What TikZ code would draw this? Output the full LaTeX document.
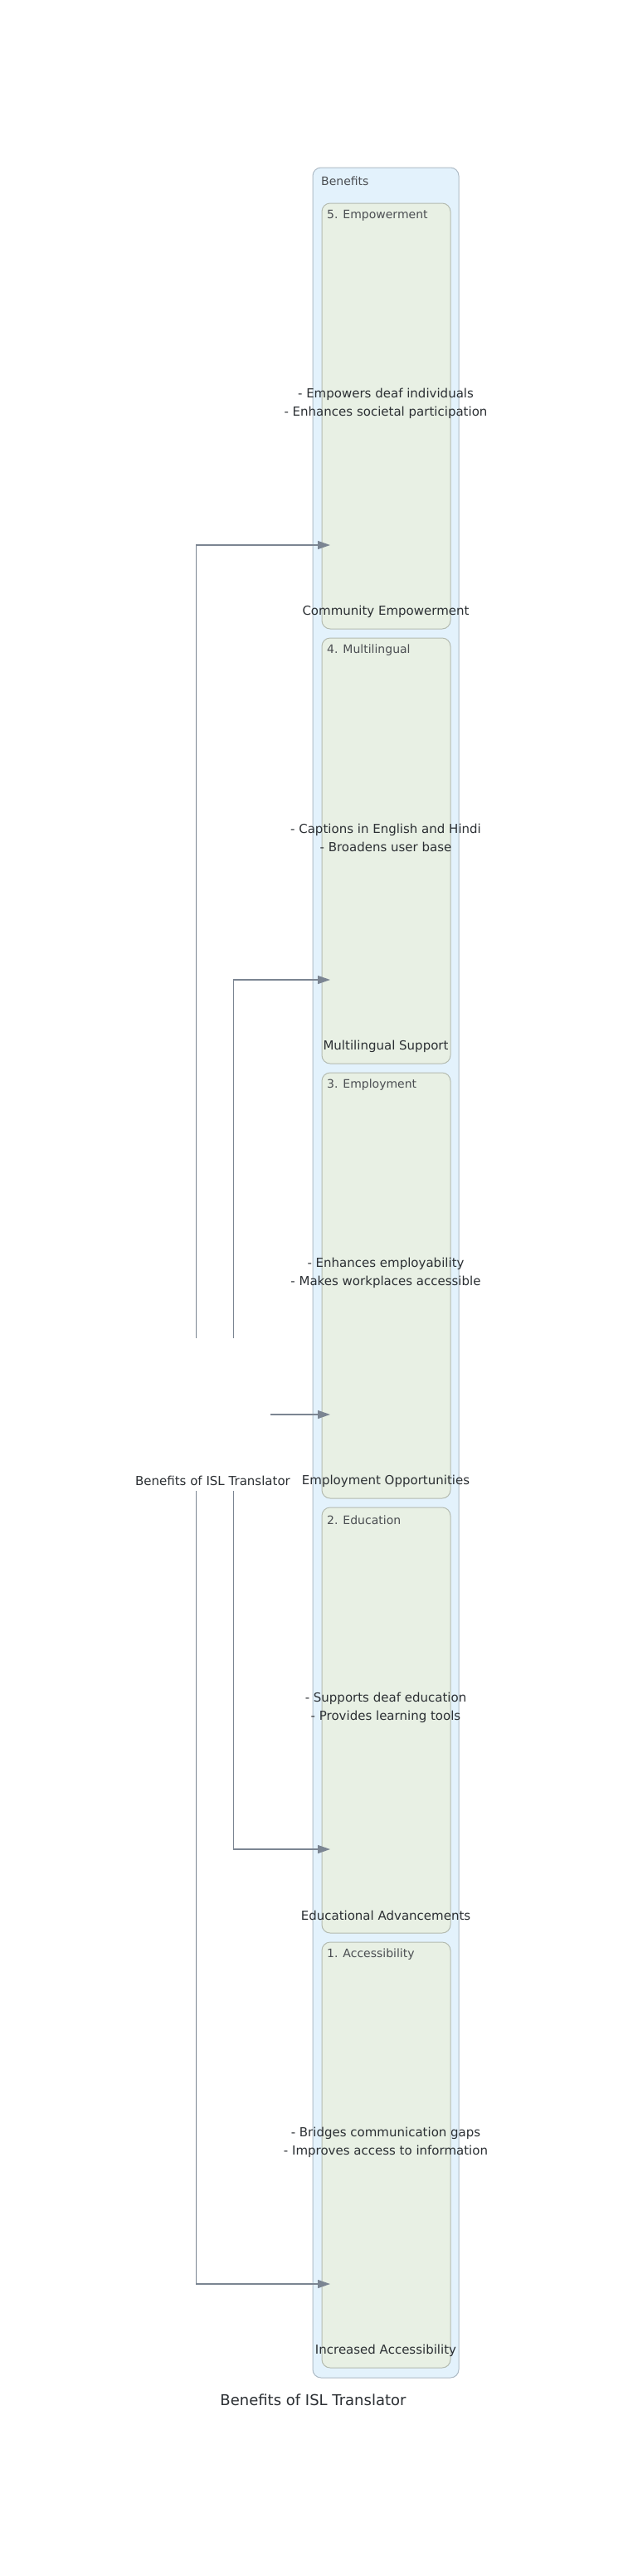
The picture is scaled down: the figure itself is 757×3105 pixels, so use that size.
\documentclass[tikz,border=0pt]{standalone}
\usepackage{fontspec}
\setmainfont{DejaVu Sans}
\usetikzlibrary{arrows.meta}
\definecolor{outerfill}{HTML}{E3F2FC}
\definecolor{outerline}{HTML}{AEBBC6}
\definecolor{innerfill}{HTML}{E8F0E4}
\definecolor{innerline}{HTML}{B4BBB0}
\definecolor{edgegray}{HTML}{7B8592}
\definecolor{textdark}{HTML}{2B2F33}

\begin{document}
\begin{tikzpicture}[x=1pt,y=-1pt,
  outerbox/.style={draw=outerline, fill=outerfill, line width=1pt, rounded corners=10pt},
  innerbox/.style={draw=innerline, fill=innerfill, line width=1pt, rounded corners=10pt},
  boxlabel/.style={anchor=west, inner sep=0pt, text=textdark!85, font=\fontsize{14}{16}\selectfont},
  desc/.style={align=center, inner sep=0pt, text=textdark, font=\fontsize{15}{22}\selectfont},
  itemname/.style={inner sep=0pt, text=textdark, font=\fontsize{15}{18}\selectfont},
  link/.style={draw=edgegray, line width=1.3pt, -{Triangle[length=15pt,width=10pt]}}]
\useasboundingbox (0,0) rectangle (757,3105);
\fill[white] (0,0) rectangle (757,3105);

% outer cluster
\draw[outerbox] (377,202) rectangle (553,2866);
\node[boxlabel] (benefitslbl) at (387,218) {Benefits};

% 5. Empowerment
\draw[innerbox] (388,245) rectangle (543,758);
\node[boxlabel] (empowlbl) at (394,260) {5. Empowerment};
\node[desc] (empowdesc) at (465,486) {- Empowers deaf individuals\\- Enhances societal participation};
\node[itemname] (empow) at (465,737) {Community Empowerment};
\coordinate (empowin) at (398,657);

% 4. Multilingual
\draw[innerbox] (388,769) rectangle (543,1282);
\node[boxlabel] (multilbl) at (394,784) {4. Multilingual};
\node[desc] (multidesc) at (465,1010) {- Captions in English and Hindi\\- Broadens user base};
\node[itemname] (multi) at (465,1261) {Multilingual Support};
\coordinate (multiin) at (398,1181);

% 3. Employment
\draw[innerbox] (388,1293) rectangle (543,1806);
\node[boxlabel] (emplolbl) at (394,1308) {3. Employment};
\node[desc] (emplodesc) at (465,1534) {- Enhances employability\\- Makes workplaces accessible};
\node[itemname] (emplo) at (465,1785) {Employment Opportunities};
\coordinate (emploin) at (398,1705);

% 2. Education
\draw[innerbox] (388,1817) rectangle (543,2330);
\node[boxlabel] (edulbl) at (394,1832) {2. Education};
\node[desc] (edudesc) at (465,2058) {- Supports deaf education\\- Provides learning tools};
\node[itemname] (edu) at (465,2309) {Educational Advancements};
\coordinate (eduin) at (398,2229);

% 1. Accessibility
\draw[innerbox] (388,2341) rectangle (543,2854);
\node[boxlabel] (accesslbl) at (394,2356) {1. Accessibility};
\node[desc] (accessdesc) at (465,2582) {- Bridges communication gaps\\- Improves access to information};
\node[itemname] (access) at (465,2833) {Increased Accessibility};
\coordinate (accessin) at (398,2753);

% root
\node[minimum width=89pt, minimum height=184pt, inner sep=0pt] (root) at (281.5,1705) {};
\node[itemname] (rootlbl) at (256.5,1785) {Benefits of ISL Translator};

\draw[link] (root.north west) |- (empowin);
\draw[link] (root.north) |- (multiin);
\draw[link] (root.east) -- (emploin);
\draw[link] (root.south) |- (eduin);
\draw[link] (root.south west) |- (accessin);

\node[text=textdark, font=\fontsize{18}{22}\selectfont] (title) at (377.5,2893) {Benefits of ISL Translator};
\end{tikzpicture}
\end{document}
